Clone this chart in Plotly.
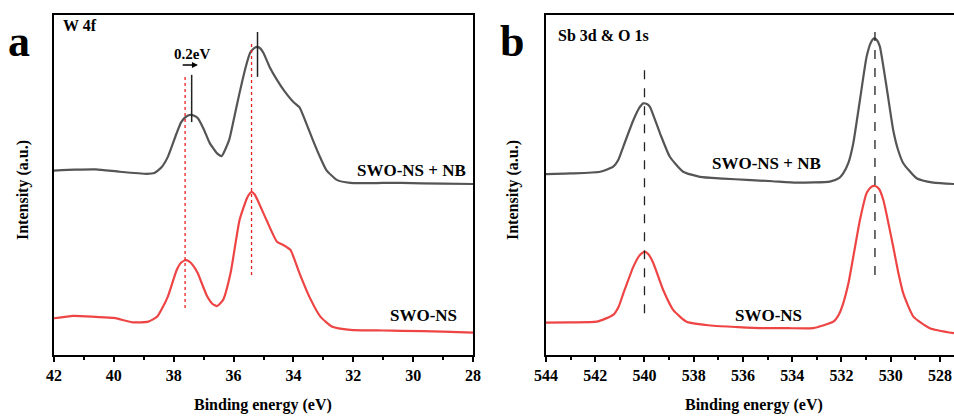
import plotly.graph_objects as go

# ---------------- data ----------------
# Panel a: W 4f
w4f_energy_nb = [42.0, 41.3, 40.6, 39.8, 38.9, 38.65, 38.4, 38.2, 37.9, 37.75, 37.6, 37.45, 37.3, 37.2,
                 37.0, 36.8, 36.55, 36.4, 36.15, 36.0, 35.8, 35.6, 35.45, 35.32, 35.2, 35.1, 35.0,
                 34.8, 34.55, 34.3, 34.0, 33.8, 33.6, 33.35, 33.1, 32.9, 32.55, 32.1, 31.0, 30.4,
                 29.0, 28.0]
w4f_int_nb = [54.2, 54.5, 54.6, 53.9, 53.3, 53.5, 55.3, 58.2, 65.3, 68.5, 70.0, 70.6, 70.3, 69.7,
              66.5, 62.4, 59.3, 58.5, 63.2, 69.0, 77.1, 84.5, 88.8, 90.2, 90.6, 90.1, 88.8,
              84.8, 80.9, 77.6, 74.4, 72.9, 68.8, 63.2, 58.0, 54.4, 51.5, 50.6, 50.6, 50.6,
              50.4, 50.3]

w4f_energy_ns = [42.0, 41.35, 40.6, 40.0, 39.35, 38.85, 38.55, 38.4, 38.2, 37.9, 37.75, 37.6, 37.5,
                 37.35, 37.2, 36.9, 36.7, 36.55, 36.35, 36.1, 35.8, 35.55, 35.45, 35.4, 35.3, 35.2,
                 34.9, 34.55, 34.35, 34.1, 33.8, 33.45, 33.1, 32.7, 32.1, 31.0, 30.4, 29.0, 28.0]
w4f_int_ns = [10.8, 11.5, 11.2, 10.9, 9.6, 9.8, 11.3, 13.5, 17.1, 25.0, 27.2, 27.9, 27.6,
              26.3, 24.1, 17.6, 15.0, 14.4, 16.2, 24.1, 39.7, 46.2, 47.6, 48.0, 47.3, 45.6,
              39.7, 33.3, 32.4, 30.9, 24.1, 16.8, 11.3, 8.3, 7.4, 7.2, 7.1, 6.9, 6.6]

# Panel b: Sb 3d & O 1s
o1s_energy_nb = [544.0, 543.0, 541.8, 541.27, 541.05, 540.86, 540.45, 540.2, 540.05, 539.9,
                 539.78, 539.37, 538.97, 538.43, 537.75, 536.8, 535.85, 534.8, 533.82, 532.47,
                 532.1, 531.93, 531.72, 531.52, 531.25, 530.98, 530.8, 530.67, 530.55, 530.44,
                 530.17, 529.9, 529.7, 529.49, 528.95, 528.27, 527.43]
o1s_int_nb = [53.2, 53.4, 53.9, 55.4, 57.6, 61.3, 69.1, 72.8, 74.0, 73.8,
              73.0, 65.2, 58.3, 53.9, 52.4, 51.9, 51.5, 51.1, 50.7, 51.0,
              52.0, 53.4, 56.5, 62.3, 75.0, 87.7, 92.0, 93.1, 92.5, 90.7,
              78.9, 66.2, 60.3, 56.4, 52.0, 50.7, 50.3]

o1s_energy_ns = [544.0, 543.0, 541.94, 541.27, 541.05, 540.86, 540.45, 540.2, 540.0, 539.84,
                 539.64, 539.24, 538.83, 538.29, 537.2, 536.2, 535.18, 534.2, 533.15, 532.33,
                 532.1, 531.93, 531.72, 531.52, 531.25, 530.98, 530.8, 530.64, 530.48, 530.3,
                 529.9, 529.7, 529.49, 529.08, 528.41, 527.43]
o1s_int_ns = [9.5, 9.6, 9.8, 11.8, 14.2, 18.1, 26.0, 29.3, 30.4, 29.6,
              27.0, 19.1, 13.2, 9.8, 8.6, 8.2, 7.9, 7.9, 7.9, 9.8,
              12.0, 15.2, 21.0, 28.9, 39.7, 47.6, 49.4, 49.7, 48.9, 45.6,
              31.9, 24.5, 18.1, 11.3, 7.9, 6.4]

w4f_ticks = [42, 40, 38, 36, 34, 32, 30, 28]
o1s_ticks = [544, 542, 540, 538, 536, 534, 532, 530, 528]

# reference marker positions
w4f_ref_ns = [37.62, 35.4]
w4f_ref_nb = [37.4, 35.2]
o1s_ref = [540.0, 530.64]

# ---------------- figure ----------------
W, H = 954, 416
FONT = "Liberation Serif"
GRAY = "#555555"
RED = "#ee4444"

def px(x):
    return x / W

def py(y):
    return (H - y) / H

line_nb = dict(color=GRAY, width=2.2, shape="spline", smoothing=0.5)
line_ns = dict(color=RED, width=2.2, shape="spline", smoothing=0.5)

fig = go.Figure()
fig.add_trace(go.Scatter(x=w4f_energy_nb, y=w4f_int_nb, mode="lines", line=line_nb, xaxis="x", yaxis="y", showlegend=False))
fig.add_trace(go.Scatter(x=w4f_energy_ns, y=w4f_int_ns, mode="lines", line=line_ns, xaxis="x", yaxis="y", showlegend=False))
fig.add_trace(go.Scatter(x=o1s_energy_nb, y=o1s_int_nb, mode="lines", line=line_nb, xaxis="x2", yaxis="y2", showlegend=False))
fig.add_trace(go.Scatter(x=o1s_energy_ns, y=o1s_int_ns, mode="lines", line=line_ns, xaxis="x2", yaxis="y2", showlegend=False))

ydom = [py(355), py(15)]
tickfont = dict(family=FONT, size=16, color="black", weight="bold")
common_x = dict(showline=True, linecolor="black", linewidth=2, ticks="outside", ticklen=5, tickwidth=1.5,
                tickcolor="black", showgrid=False, zeroline=False, tickfont=tickfont, automargin=False,
                minor=dict(ticks="outside", ticklen=3, tickwidth=1.5, tickcolor="black", dtick=1, showgrid=False))
common_y = dict(showline=True, linecolor="black", linewidth=2, showticklabels=False, ticks="",
                showgrid=False, zeroline=False, range=[0, 100], domain=ydom, automargin=False)

fig.update_layout(
    width=W, height=H, margin=dict(l=0, r=0, t=0, b=0, autoexpand=False),
    paper_bgcolor="white", plot_bgcolor="white",
    xaxis=dict(domain=[px(54), px(473)], range=[42, 28], tickvals=w4f_ticks, mirror=True, anchor="y", **common_x),
    yaxis=dict(anchor="x", mirror=True, **common_y),
    xaxis2=dict(domain=[px(546), 1.0], range=[544, 527.43], tickvals=o1s_ticks, mirror=True, anchor="y2", **common_x),
    yaxis2=dict(anchor="x2", mirror=False, **common_y),
)

shapes = []
for xv, (y0, y1) in zip(w4f_ref_ns, [(13.8, 82.4), (23.5, 92.1)]):
    shapes.append(dict(type="line", xref="x", yref="y", x0=xv, x1=xv, y0=y0, y1=y1,
                       line=dict(color="#e82020", width=1.3, dash="dot")))
for xv, (y0, y1) in zip(w4f_ref_nb, [(68.5, 82.4), (81.8, 95.0)]):
    shapes.append(dict(type="line", xref="x", yref="y", x0=xv, x1=xv, y0=y0, y1=y1,
                       line=dict(color="#222222", width=1.5)))
for xv, (y0, y1) in zip(o1s_ref, [(12.3, 86.3), (23.5, 97.6)]):
    shapes.append(dict(type="line", xref="x2", yref="y2", x0=xv, x1=xv, y0=y0, y1=y1,
                       line=dict(color="#222222", width=1.3, dash="dash")))
fig.update_layout(shapes=shapes)

def txt(text, x, y, size, xanchor="center", yanchor="middle", angle=0):
    return dict(text=text, x=x, y=y, xref="paper", yref="paper", showarrow=False,
                xanchor=xanchor, yanchor=yanchor, textangle=angle,
                font=dict(family=FONT, size=size, color="black", weight="bold"))

ann = [
    txt("a", px(19), py(42), 44),
    txt("b", px(512), py(42), 44),
    txt("W 4f", px(61), py(25), 16, xanchor="left"),
    txt("Sb 3d &amp; O 1s", px(556), py(35), 16, xanchor="left"),
    txt("SWO-NS + NB", px(468), py(170), 17, xanchor="right"),
    txt("SWO-NS", px(459), py(315), 17, xanchor="right"),
    txt("SWO-NS + NB", px(766), py(163), 17),
    txt("SWO-NS", px(768), py(315), 17),
    txt("0.2eV", px(192), py(54), 15),
    txt("Binding energy (eV)", px(263), py(405), 16),
    txt("Binding energy (eV)", px(754), py(405), 16),
    txt("Intensity (a.u.)", px(23), py(190), 16, angle=-90),
    txt("Intensity (a.u.)", px(513), py(190), 16, angle=-90),
    dict(x=37.19, y=85.3, ax=37.75, ay=85.3, xref="x", yref="y", axref="x", ayref="y",
         showarrow=True, arrowhead=2, arrowsize=0.8, arrowwidth=1.5, arrowcolor="black", text=""),
]
fig.update_layout(annotations=ann)

fig.write_html("out.html")
